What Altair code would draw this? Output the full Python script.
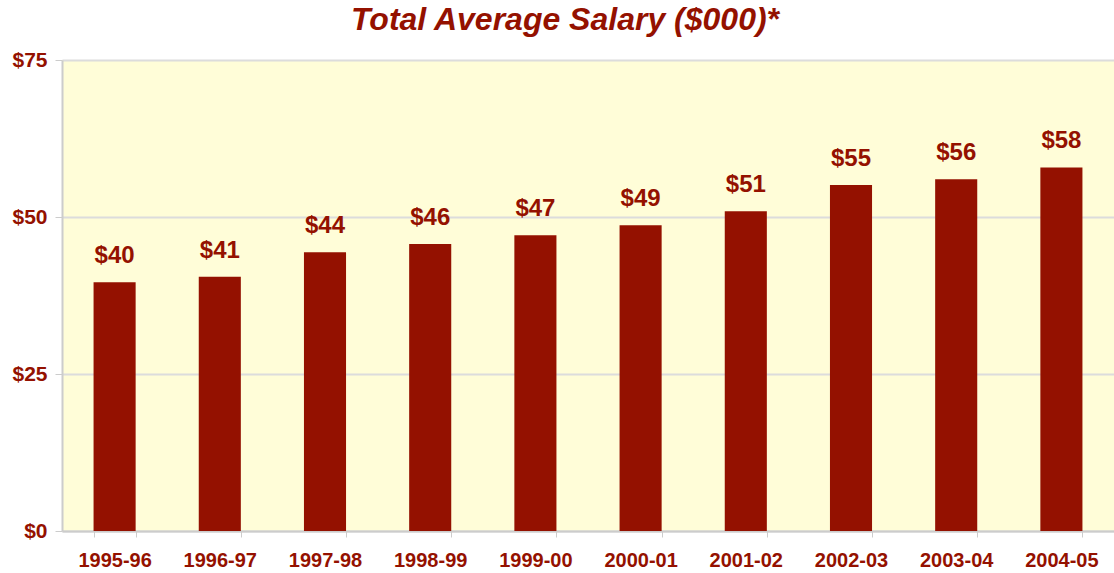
import altair as alt
import pandas as pd

years = ["1995-96", "1996-97", "1997-98", "1998-99", "1999-00",
         "2000-01", "2001-02", "2002-03", "2003-04", "2004-05"]
salary = [39.6, 40.5, 44.4, 45.7, 47.1, 48.7, 50.9, 55.1, 56.0, 57.9]

df = pd.DataFrame({"year": years, "salary": salary})

RED = "#941100"
FONT = "Liberation Sans"

x = alt.X("year:N", sort=years, title=None,
          scale=alt.Scale(paddingInner=0.6, paddingOuter=0.3),
          axis=alt.Axis(labelAngle=0, labelFont=FONT, labelFontWeight="bold",
                        labelFontSize=20, labelColor=RED, labelPadding=13,
                        tickBand="extent", tickColor="#cccccc", tickSize=6,
                        domainColor="#cccccc", domainWidth=2, grid=False))
y = alt.Y("salary:Q", title=None,
          scale=alt.Scale(domain=[0, 75], nice=False),
          axis=alt.Axis(values=[0, 25, 50, 75], format="$.0f",
                        labelFont=FONT, labelFontWeight="bold", labelFontSize=21,
                        labelColor=RED, labelPadding=8, tickColor="#cccccc",
                        tickSize=7, domainColor="#cccccc", domainWidth=2,
                        gridColor="#dcdcdc", gridWidth=2))

bars = alt.Chart(df).mark_bar(color=RED).encode(x=x, y=y)
labels = alt.Chart(df).mark_text(
    baseline="bottom", dy=-14, font=FONT, fontWeight="bold", fontSize=24, color=RED
).encode(x=alt.X("year:N", sort=years), y="salary:Q",
         text=alt.Text("salary:Q", format="$.0f"))

chart = (bars + labels).properties(
    width=1052, height=471,
    title=alt.TitleParams("Total Average Salary ($000)*", font=FONT, fontSize=32,
                          fontStyle="italic", fontWeight="bold", color=RED,
                          anchor="middle", dx=-23, offset=12),
    autosize=alt.AutoSizeParams(type="none"),
    padding={"left": 62, "top": 60, "right": 0, "bottom": 42},
).configure_view(fill="#FFFDD8", stroke=None)

chart.save("out.html", embed_options={"renderer": "svg", "actions": False})
